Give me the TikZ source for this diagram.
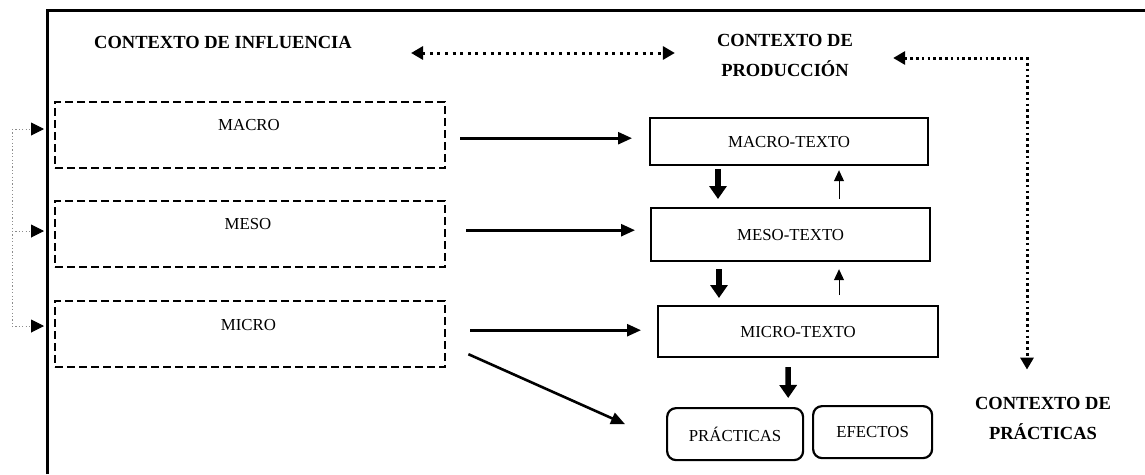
\documentclass[tikz,border=0pt]{standalone}
\usepackage{fontspec}
\setmainfont{Liberation Serif}
\usetikzlibrary{arrows.meta}
\begin{document}
\begin{tikzpicture}[x=1pt,y=-1pt,
  dbox/.style={draw, dash pattern=on 8pt off 4pt, line width=2.4pt, minimum width=390pt, minimum height=66pt, anchor=north west, inner sep=0pt},
  sbox/.style={draw, line width=2.2pt, anchor=north west, inner sep=0pt, font=\fontsize{16.8}{20}\selectfont},
  rbox/.style={sbox, rounded corners=9pt},
  lbl/.style={inner sep=0pt, font=\fontsize{16.8}{20}\selectfont},
  ttl/.style={inner sep=0pt, font=\bfseries\fontsize{18.5}{30}\selectfont, align=center},
  harr/.style={line width=2.6pt, -{Triangle[length=14pt,width=12pt]}},
  darr/.style={line width=5.5pt, -{Triangle[length=13pt,width=17pt]}},
  uarr/.style={line width=1pt, -{Triangle[length=11pt,width=10pt]}},
  dotdbl/.style={line width=3pt, dash pattern=on 3pt off 4.6pt, {Triangle[length=12pt,width=13pt]}-{Triangle[length=12pt,width=13pt]}},
  dotcorner/.style={line width=3pt, dash pattern=on 2.6pt off 3.2pt, {Triangle[length=12pt,width=13pt]}-{Triangle[length=12pt,width=13pt]}},
  fbline/.style={draw=black!45, line width=1pt, dash pattern=on 1.2pt off 2.2pt},
  fbarr/.style={fbline, -{Triangle[length=13pt,width=13pt,black]}}
]
\useasboundingbox (0,0) rectangle (1145,474);

% frame
\draw[line width=3pt] (47,474) -- (47,10) -- (1145,10);

% titles
\node[ttl] (infl) at (223,42) {CONTEXTO DE INFLUENCIA};
\node[ttl] (prod) at (785,55) {CONTEXTO DE\\PRODUCCIÓN};
\node[ttl] (cpract) at (1043,418) {CONTEXTO DE\\PRÁCTICAS};

% dashed boxes
\node[dbox] (macro) at (54,101) {};
\node[dbox] (meso) at (54,200) {};
\node[dbox] (micro) at (54,300) {};
\node[lbl] (macroT) at (249,125) {MACRO};
\node[lbl] (mesoT) at (248,224.5) {MESO};
\node[lbl] (microT) at (248.5,325) {MICRO};

% solid boxes
\node[sbox, minimum width=278pt, minimum height=47pt] (mtx) at (649,117) {MACRO-TEXTO};
\node[sbox, minimum width=279pt, minimum height=53pt] (mesotx) at (650,207) {MESO-TEXTO};
\node[sbox, minimum width=280pt, minimum height=51pt] (microtx) at (657,305) {MICRO-TEXTO};
\node[rbox, minimum width=136pt, minimum height=52pt] (pract) at (666,407) {PRÁCTICAS};
\node[rbox, minimum width=119pt, minimum height=52pt] (efect) at (812,405) {EFECTOS};

% feedback on the left
\coordinate (fb1) at (12,129);
\coordinate (fb2) at (12,231);
\coordinate (fb3) at (12,326);
\coordinate (t1) at (44,129);
\coordinate (t2) at (44,231);
\coordinate (t3) at (44,326);
\draw[fbline] (fb1) -- (fb3);
\draw[fbarr] (fb1) -- (t1);
\draw[fbarr] (fb2) -- (t2);
\draw[fbarr] (fb3) -- (t3);

% horizontal arrows
\draw[harr] ([xshift=14pt,yshift=-3pt]macro.east) -- ([xshift=-17pt,yshift=-3pt]macro.east -| mtx.west);
\draw[harr] ([xshift=20pt,yshift=4pt]meso.east) -- ([xshift=-15pt,yshift=4pt]meso.east -| mesotx.west);
\draw[harr] ([xshift=24pt,yshift=4pt]micro.east) -- ([xshift=-16pt,yshift=4pt]micro.east -| microtx.west);
\draw[harr] ([xshift=22pt,yshift=-20pt]micro.east) -- ([xshift=-41pt,yshift=10pt]pract.west);

% vertical arrows
\draw[darr] ([xshift=69pt,yshift=-3pt]mtx.south west) -- ([xshift=68pt,yshift=8pt]mesotx.north west);
\draw[darr] ([xshift=69pt,yshift=-7pt]mesotx.south west) -- ([xshift=62pt,yshift=7pt]microtx.north west);
\draw[uarr] ([xshift=189pt,yshift=8pt]mesotx.north west) -- ([xshift=190pt,yshift=-4pt]mtx.south west);
\draw[uarr] ([xshift=182pt,yshift=10pt]microtx.north west) -- ([xshift=189pt,yshift=-7pt]mesotx.south west);
\draw[darr] ([xshift=-10pt,yshift=-9pt]microtx.south) -- ([xshift=-16pt,yshift=9pt]pract.north east);

% dotted context arrows
\draw[dotdbl] ([xshift=59pt,yshift=-11pt]infl.east) -- ([xshift=-42pt,yshift=2pt]prod.west);
\draw[dotcorner] ([xshift=40pt,yshift=-3pt]prod.east) -| ([xshift=-16pt,yshift=27pt]cpract.north);
\end{tikzpicture}
\end{document}
